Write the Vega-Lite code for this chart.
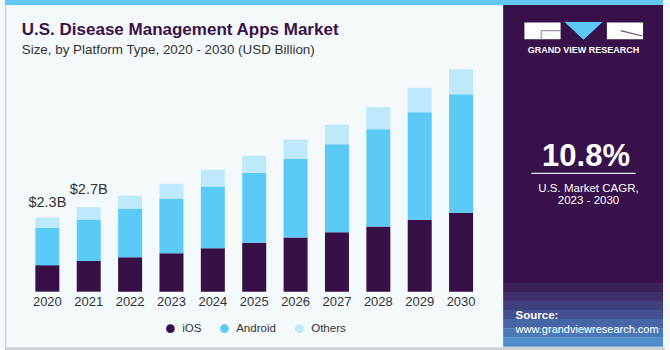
{
  "$schema": "https://vega.github.io/schema/vega-lite/v6.json",
  "width": 670,
  "height": 350,
  "autosize": "none",
  "padding": 0,
  "background": "#f4f9fc",
  "config": {"view": {"stroke": null}, "axis": {"disable": true}},
  "datasets": {
    "market": [
      {"year": 2020, "platform": "iOS", "ord": 1, "value": 0.83},
      {"year": 2020, "platform": "Android", "ord": 2, "value": 1.16},
      {"year": 2020, "platform": "Others", "ord": 3, "value": 0.33},
      {"year": 2021, "platform": "iOS", "ord": 1, "value": 0.96},
      {"year": 2021, "platform": "Android", "ord": 2, "value": 1.30},
      {"year": 2021, "platform": "Others", "ord": 3, "value": 0.38},
      {"year": 2022, "platform": "iOS", "ord": 1, "value": 1.08},
      {"year": 2022, "platform": "Android", "ord": 2, "value": 1.52},
      {"year": 2022, "platform": "Others", "ord": 3, "value": 0.40},
      {"year": 2023, "platform": "iOS", "ord": 1, "value": 1.20},
      {"year": 2023, "platform": "Android", "ord": 2, "value": 1.71},
      {"year": 2023, "platform": "Others", "ord": 3, "value": 0.46},
      {"year": 2024, "platform": "iOS", "ord": 1, "value": 1.36},
      {"year": 2024, "platform": "Android", "ord": 2, "value": 1.93},
      {"year": 2024, "platform": "Others", "ord": 3, "value": 0.52},
      {"year": 2025, "platform": "iOS", "ord": 1, "value": 1.53},
      {"year": 2025, "platform": "Android", "ord": 2, "value": 2.19},
      {"year": 2025, "platform": "Others", "ord": 3, "value": 0.53},
      {"year": 2026, "platform": "iOS", "ord": 1, "value": 1.69},
      {"year": 2026, "platform": "Android", "ord": 2, "value": 2.46},
      {"year": 2026, "platform": "Others", "ord": 3, "value": 0.60},
      {"year": 2027, "platform": "iOS", "ord": 1, "value": 1.86},
      {"year": 2027, "platform": "Android", "ord": 2, "value": 2.75},
      {"year": 2027, "platform": "Others", "ord": 3, "value": 0.61},
      {"year": 2028, "platform": "iOS", "ord": 1, "value": 2.04},
      {"year": 2028, "platform": "Android", "ord": 2, "value": 3.04},
      {"year": 2028, "platform": "Others", "ord": 3, "value": 0.69},
      {"year": 2029, "platform": "iOS", "ord": 1, "value": 2.25},
      {"year": 2029, "platform": "Android", "ord": 2, "value": 3.36},
      {"year": 2029, "platform": "Others", "ord": 3, "value": 0.76},
      {"year": 2030, "platform": "iOS", "ord": 1, "value": 2.47},
      {"year": 2030, "platform": "Android", "ord": 2, "value": 3.70},
      {"year": 2030, "platform": "Others", "ord": 3, "value": 0.78}
    ],
    "totals": [
      {"year": 2020, "total": 2.3, "label": "$2.3B"},
      {"year": 2021, "total": 2.7, "label": "$2.7B"}
    ],
    "one": [{"k": 1}]
  },
  "layer": [
    {
      "data": {"name": "market"},
      "mark": {"type": "bar", "size": 24},
      "encoding": {
        "x": {"field": "year", "type": "quantitative", "axis": null, "scale": {"domain": [2018.9762, 2034.9286], "nice": false, "zero": false}},
        "y": {"field": "value", "type": "quantitative", "stack": "zero", "axis": null, "scale": {"domain": [-1.8219, 9.1156], "nice": false, "zero": false}},
        "order": {"field": "ord", "type": "quantitative"},
        "color": {
          "field": "platform", "type": "nominal",
          "scale": {"domain": ["iOS", "Android", "Others"], "range": ["#371047", "#5ccaf6", "#bde9fa"]},
          "legend": {
            "title": null, "orient": "none", "direction": "horizontal",
            "legendX": 164.7, "legendY": 322.5,
            "symbolType": "circle", "symbolSize": 75, "symbolStrokeWidth": 0,
            "labelFontSize": 11.5, "labelColor": "#333333", "labelFont": "Liberation Sans",
            "labelOffset": 6, "columnPadding": 17, "padding": 0
          }
        }
      }
    },
    {
      "data": {"name": "one"},
      "mark": {"type": "rect", "color": "#38114a"},
      "encoding": {
        "x": {"datum": 2031.0167, "type": "quantitative"},
        "x2": {"datum": 2034.881},
        "y": {"datum": 9.1156, "type": "quantitative"},
        "y2": {"datum": 0.2719}
      }
    },
    {
      "data": {"name": "one"},
      "mark": {"type": "rule", "color": "#3c2259", "strokeWidth": 9.4, "strokeCap": "butt"},
      "encoding": {
        "x": {"datum": 2031.0167, "type": "quantitative"},
        "x2": {"datum": 2034.881},
        "y": {"datum": 0.13, "type": "quantitative"}
      }
    },
    {
      "data": {"name": "one"},
      "mark": {"type": "rule", "color": "#3f306d", "strokeWidth": 9.4, "strokeCap": "butt"},
      "encoding": {
        "x": {"datum": 2031.0167, "type": "quantitative"},
        "x2": {"datum": 2034.881},
        "y": {"datum": -0.1533, "type": "quantitative"}
      }
    },
    {
      "data": {"name": "one"},
      "mark": {"type": "rule", "color": "#41407f", "strokeWidth": 9.4, "strokeCap": "butt"},
      "encoding": {
        "x": {"datum": 2031.0167, "type": "quantitative"},
        "x2": {"datum": 2034.881},
        "y": {"datum": -0.4367, "type": "quantitative"}
      }
    },
    {
      "data": {"name": "one"},
      "mark": {"type": "rule", "color": "#445191", "strokeWidth": 9.4, "strokeCap": "butt"},
      "encoding": {
        "x": {"datum": 2031.0167, "type": "quantitative"},
        "x2": {"datum": 2034.881},
        "y": {"datum": -0.7203, "type": "quantitative"}
      }
    },
    {
      "data": {"name": "one"},
      "mark": {"type": "rule", "color": "#4764a5", "strokeWidth": 9.4, "strokeCap": "butt"},
      "encoding": {
        "x": {"datum": 2031.0167, "type": "quantitative"},
        "x2": {"datum": 2034.881},
        "y": {"datum": -1.0039, "type": "quantitative"}
      }
    },
    {
      "data": {"name": "one"},
      "mark": {"type": "rule", "color": "#4a78b8", "strokeWidth": 9.4, "strokeCap": "butt"},
      "encoding": {
        "x": {"datum": 2031.0167, "type": "quantitative"},
        "x2": {"datum": 2034.881},
        "y": {"datum": -1.2873, "type": "quantitative"}
      }
    },
    {
      "data": {"name": "one"},
      "mark": {"type": "rule", "color": "#4f8dca", "strokeWidth": 9.4, "strokeCap": "butt"},
      "encoding": {
        "x": {"datum": 2031.0167, "type": "quantitative"},
        "x2": {"datum": 2034.881},
        "y": {"datum": -1.5708, "type": "quantitative"}
      }
    },
    {
      "data": {"name": "one"},
      "mark": {"type": "rect", "color": "#62c8f1"},
      "encoding": {
        "x": {"datum": 2018.9762, "type": "quantitative"},
        "x2": {"datum": 2034.881},
        "y": {"datum": 9.1156, "type": "quantitative"},
        "y2": {"datum": 8.959}
      }
    },
    {
      "data": {"name": "one"},
      "mark": {"type": "rect", "color": "#cdd2d6"},
      "encoding": {
        "x": {"datum": 2018.9762, "type": "quantitative"},
        "x2": {"datum": 2034.9286},
        "y": {"datum": -1.7375, "type": "quantitative"},
        "y2": {"datum": -1.8219}
      }
    },
    {
      "data": {"name": "one"},
      "mark": {"type": "rule", "color": "#cdd2d6", "strokeWidth": 1.5},
      "encoding": {
        "x": {"datum": 2018.9944, "type": "quantitative"},
        "y": {"datum": 8.959, "type": "quantitative"},
        "y2": {"datum": -1.8219}
      }
    },
    {
      "data": {"name": "market"},
      "transform": [{"filter": "datum.platform === 'iOS'"}],
      "mark": {"type": "text", "fontSize": 13, "color": "#333333", "font": "Liberation Sans", "baseline": "alphabetic", "align": "center"},
      "encoding": {
        "x": {"field": "year", "type": "quantitative"},
        "y": {"datum": -0.4375, "type": "quantitative"},
        "text": {"field": "year", "type": "quantitative", "format": "d"}
      }
    },
    {
      "data": {"name": "totals"},
      "mark": {"type": "text", "fontSize": 14.5, "color": "#333333", "font": "Liberation Sans", "baseline": "alphabetic", "align": "center", "dy": -11},
      "encoding": {
        "x": {"field": "year", "type": "quantitative"},
        "y": {"field": "total", "type": "quantitative"},
        "text": {"field": "label"}
      }
    },
    {
      "data": {"values": [{"t": "U.S. Disease Management Apps Market"}]},
      "mark": {"type": "text", "fontSize": 17, "fontWeight": "bold", "color": "#3a1248", "font": "Liberation Sans", "align": "left", "baseline": "alphabetic"},
      "encoding": {
        "x": {"datum": 2019.381, "type": "quantitative"},
        "y": {"datum": 8.0219, "type": "quantitative"},
        "text": {"field": "t"}
      }
    },
    {
      "data": {"values": [{"t": "Size, by Platform Type, 2020 - 2030 (USD Billion)"}]},
      "mark": {"type": "text", "fontSize": 13.4, "color": "#333333", "font": "Liberation Sans", "align": "left", "baseline": "alphabetic"},
      "encoding": {
        "x": {"datum": 2019.381, "type": "quantitative"},
        "y": {"datum": 7.428, "type": "quantitative"},
        "text": {"field": "t"}
      }
    },
    {
      "data": {"name": "one"},
      "mark": {"type": "rect", "color": "#ffffff"},
      "encoding": {
        "x": {"datum": 2031.531, "type": "quantitative"},
        "x2": {"datum": 2032.405},
        "y": {"datum": 8.4156, "type": "quantitative"},
        "y2": {"datum": 7.8875}
      }
    },
    {
      "data": {"name": "one"},
      "mark": {"type": "rect", "color": "#ffffff"},
      "encoding": {
        "x": {"datum": 2033.524, "type": "quantitative"},
        "x2": {"datum": 2034.398},
        "y": {"datum": 8.4156, "type": "quantitative"},
        "y2": {"datum": 7.8875}
      }
    },
    {
      "data": {"name": "one"},
      "mark": {"type": "rule", "color": "#8a7a96", "strokeWidth": 1},
      "encoding": {
        "x": {"datum": 2031.936, "type": "quantitative"},
        "x2": {"datum": 2032.405},
        "y": {"datum": 8.156, "type": "quantitative"}
      }
    },
    {
      "data": {"name": "one"},
      "mark": {"type": "rule", "color": "#8a7a96", "strokeWidth": 1},
      "encoding": {
        "x": {"datum": 2031.936, "type": "quantitative"},
        "y": {"datum": 8.156, "type": "quantitative"},
        "y2": {"datum": 7.8875}
      }
    },
    {
      "data": {"name": "one"},
      "mark": {"type": "rule", "color": "#6a4f80", "strokeWidth": 1.2},
      "encoding": {
        "x": {"datum": 2033.857, "type": "quantitative"},
        "x2": {"datum": 2034.381},
        "y": {"datum": 8.156, "type": "quantitative"},
        "y2": {"datum": 7.9906}
      }
    },
    {
      "data": {"name": "one"},
      "mark": {"type": "point", "shape": "M-1,-0.47L1,-0.47L0,0.47Z", "size": 1444, "filled": true, "fill": "#5bc8f5", "stroke": null, "opacity": 1, "strokeWidth": 0},
      "encoding": {
        "x": {"datum": 2032.96, "type": "quantitative"},
        "y": {"datum": 8.152, "type": "quantitative"}
      }
    },
    {
      "data": {"values": [{"t": "GRAND VIEW RESEARCH"}]},
      "mark": {"type": "text", "fontSize": 9, "fontWeight": "bold", "color": "#ffffff", "font": "Liberation Sans", "align": "center", "baseline": "alphabetic", "letterSpacing": 1},
      "encoding": {
        "x": {"datum": 2032.96, "type": "quantitative"},
        "y": {"datum": 7.444, "type": "quantitative"},
        "text": {"field": "t"}
      }
    },
    {
      "data": {"values": [{"t": "10.8%"}]},
      "mark": {"type": "text", "fontSize": 31, "fontWeight": "bold", "color": "#ffffff", "font": "Liberation Sans", "align": "center", "baseline": "alphabetic"},
      "encoding": {
        "x": {"datum": 2033.02, "type": "quantitative"},
        "y": {"datum": 3.9375, "type": "quantitative"},
        "text": {"field": "t"}
      }
    },
    {
      "data": {"name": "one"},
      "mark": {"type": "rule", "color": "#e8e4ee", "strokeWidth": 1.2},
      "encoding": {
        "x": {"datum": 2031.698, "type": "quantitative"},
        "x2": {"datum": 2034.221},
        "y": {"datum": 3.70, "type": "quantitative"}
      }
    },
    {
      "data": {"values": [{"t": "U.S. Market CAGR,"}]},
      "mark": {"type": "text", "fontSize": 11.5, "color": "#ffffff", "font": "Liberation Sans", "align": "center", "baseline": "alphabetic"},
      "encoding": {
        "x": {"datum": 2033.08, "type": "quantitative"},
        "y": {"datum": 3.131, "type": "quantitative"},
        "text": {"field": "t"}
      }
    },
    {
      "data": {"values": [{"t": "2023 - 2030"}]},
      "mark": {"type": "text", "fontSize": 11.5, "color": "#ffffff", "font": "Liberation Sans", "align": "center", "baseline": "alphabetic"},
      "encoding": {
        "x": {"datum": 2033.08, "type": "quantitative"},
        "y": {"datum": 2.731, "type": "quantitative"},
        "text": {"field": "t"}
      }
    },
    {
      "data": {"values": [{"t": "Source:"}]},
      "mark": {"type": "text", "fontSize": 11.5, "fontWeight": "bold", "color": "#ffffff", "font": "Liberation Sans", "align": "left", "baseline": "alphabetic"},
      "encoding": {
        "x": {"datum": 2031.317, "type": "quantitative"},
        "y": {"datum": -0.8625, "type": "quantitative"},
        "text": {"field": "t"}
      }
    },
    {
      "data": {"values": [{"t": "www.grandviewresearch.com"}]},
      "mark": {"type": "text", "fontSize": 11, "color": "#ffffff", "font": "Liberation Sans", "align": "left", "baseline": "alphabetic"},
      "encoding": {
        "x": {"datum": 2031.317, "type": "quantitative"},
        "y": {"datum": -1.28, "type": "quantitative"},
        "text": {"field": "t"}
      }
    }
  ]
}
